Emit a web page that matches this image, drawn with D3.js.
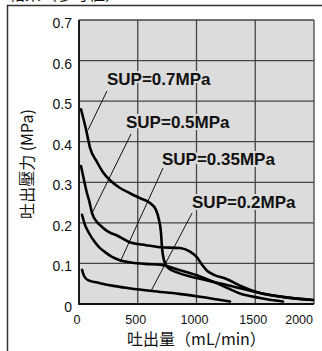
<!DOCTYPE html>
<html>
<head>
<meta charset="utf-8">
<script src="https://cdn.jsdelivr.net/npm/d3@7"></script>
<style>
  body { margin: 0; background: #fff; }
  svg { display: block; }
</style>
</head>
<body>
<div id="chart"></div>
<script>
// discharge flow (mL/min) and discharge pressure (MPa) per supply pressure
const flow07 = [17, 60, 94, 153, 204, 264, 349, 434, 519, 604, 655, 681, 698, 706, 723, 757, 851, 1030, 1285, 1540, 1796, 1991];
const pres07 = [0.48, 0.43, 0.385, 0.35, 0.325, 0.305, 0.286, 0.273, 0.261, 0.249, 0.232, 0.207, 0.175, 0.14, 0.108, 0.089, 0.076, 0.062, 0.045, 0.027, 0.015, 0.01];
const flow05 = [17, 43, 68, 85, 111, 153, 196, 255, 315, 426, 570, 690, 860, 945, 1004, 1047, 1090, 1149, 1260, 1370, 1540, 1796, 1991];
const pres05 = [0.34, 0.305, 0.273, 0.256, 0.224, 0.202, 0.19, 0.177, 0.17, 0.153, 0.145, 0.14, 0.138, 0.129, 0.115, 0.097, 0.082, 0.072, 0.061, 0.045, 0.027, 0.015, 0.01];
const flow035 = [26, 51, 85, 128, 170, 221, 281, 349, 426, 562, 706, 851, 1030, 1200, 1370, 1540, 1736];
const pres035 = [0.22, 0.195, 0.175, 0.155, 0.14, 0.128, 0.116, 0.108, 0.103, 0.099, 0.096, 0.084, 0.068, 0.048, 0.026, 0.015, 0.006];
const flow02 = [26, 43, 77, 170, 306, 426, 621, 851, 1030, 1285];
const pres02 = [0.084, 0.069, 0.059, 0.052, 0.044, 0.039, 0.032, 0.025, 0.018, 0.006];

const seriesNames = ['SUP=0.7MPa', 'SUP=0.5MPa', 'SUP=0.35MPa', 'SUP=0.2MPa'];
// label anchor and leader line ends, in data units
const labelFlow = [238, 400, 706, 962];
const labelPres = [0.539, 0.433, 0.342, 0.236];
const leaderFromFlow = [238, 443, 715, 962];
const leaderFromPres = [0.525, 0.419, 0.335, 0.224];
const leaderToFlow = [77, 111, 349, 613];
const leaderToPres = [0.429, 0.224, 0.103, 0.032];

const xTicks = [0, 500, 1000, 1500, 2000];
const yTicks = [0, 0.1, 0.2, 0.3, 0.4, 0.5, 0.6, 0.7];

const width = 322, height = 351;
const margin = { top: 20, right: 8, bottom: 47, left: 79 };

const svg = d3.select('#chart').append('svg')
  .attr('width', width)
  .attr('height', height);

// outer frame (top and left edges only visible)
svg.append('path')
  .attr('d', `M7.5,${height} V5.5 H${width}`)
  .attr('fill', 'none')
  .attr('stroke', '#333')
  .attr('stroke-width', 1.5);

// cut-off heading at the very top
svg.append('text')
  .attr('x', 9).attr('y', 0)
  .attr('font-family', '"Noto Sans CJK JP"')
  .attr('font-size', 16)
  .attr('fill', '#111')
  .text('結果（参考値）');

const x = d3.scaleLinear()
  .domain([0, 2000])
  .range([margin.left, width - margin.right]);

const y = d3.scaleLinear()
  .domain([0, 0.7])
  .range([height - margin.bottom, margin.top]);

svg.append('rect')
  .attr('x', x(0)).attr('y', y(0.7))
  .attr('width', x(2000) - x(0))
  .attr('height', y(0) - y(0.7))
  .attr('fill', '#dcdcdc');

// grid
svg.append('g')
  .attr('stroke', '#444')
  .attr('stroke-width', 1.3)
  .selectAll('line.v')
  .data(xTicks)
  .join('line')
  .attr('x1', d => x(d)).attr('x2', d => x(d))
  .attr('y1', y(0)).attr('y2', y(0.7));

svg.append('g')
  .attr('stroke', '#444')
  .attr('stroke-width', 1.3)
  .selectAll('line.h')
  .data(yTicks)
  .join('line')
  .attr('x1', x(0)).attr('x2', x(2000))
  .attr('y1', d => y(d)).attr('y2', d => y(d));

// axes lines
svg.append('path')
  .attr('d', `M${x(0)},${y(0.7)} V${y(0)} H${x(2000)}`)
  .attr('fill', 'none')
  .attr('stroke', '#111')
  .attr('stroke-width', 1.8);

// tick labels
svg.append('g')
  .attr('font-family', 'Liberation Sans, Arial, sans-serif')
  .attr('font-size', 14)
  .attr('fill', '#111')
  .attr('text-anchor', 'end')
  .selectAll('text')
  .data(yTicks)
  .join('text')
  .attr('x', x(0) - 7)
  .attr('y', d => y(d) + 8)
  .text(d => d === 0 ? '0' : d3.format('.1f')(d));

svg.append('g')
  .attr('font-family', 'Liberation Sans, Arial, sans-serif')
  .attr('font-size', 12.5)
  .attr('fill', '#111')
  .selectAll('text')
  .data(xTicks)
  .join('text')
  .attr('text-anchor', d => d === 2000 ? 'end' : 'middle')
  .attr('x', d => d === 2000 ? x(d) - 1 : x(d) - 2)
  .attr('y', y(0) + 20)
  .text(d => d);

// axis titles
svg.append('text')
  .attr('x', (x(0) + x(2000)) / 2)
  .attr('y', 345)
  .attr('text-anchor', 'middle')
  .attr('font-family', '"Noto Sans CJK JP"')
  .attr('font-size', 16)
  .attr('fill', '#111')
  .text('吐出量（mL/min）');

svg.append('text')
  .attr('transform', `translate(33,${(y(0) + y(0.7)) / 2 + 2}) rotate(-90)`)
  .attr('text-anchor', 'middle')
  .attr('font-family', '"Noto Sans CJK JP"')
  .attr('font-size', 16)
  .attr('fill', '#111')
  .text('吐出壓力 (MPa)');

// labels with grey halo, then leaders
seriesNames.forEach((name, i) => {
  svg.append('text')
    .attr('x', x(labelFlow[i]))
    .attr('y', y(labelPres[i]))
    .attr('font-family', 'Liberation Sans, Arial, sans-serif')
    .attr('font-weight', 'bold')
    .attr('font-size', 17)
    .attr('fill', '#111')
    .attr('stroke', '#dcdcdc')
    .attr('stroke-width', 4)
    .attr('paint-order', 'stroke')
    .text(name);

  svg.append('line')
    .attr('x1', x(leaderFromFlow[i])).attr('y1', y(leaderFromPres[i]))
    .attr('x2', x(leaderToFlow[i])).attr('y2', y(leaderToPres[i]))
    .attr('stroke', '#111')
    .attr('stroke-width', 1);
});

// curves
const curves = [
  d3.zip(flow07, pres07),
  d3.zip(flow05, pres05),
  d3.zip(flow035, pres035),
  d3.zip(flow02, pres02)
];

const line = d3.line()
  .x(d => x(d[0]))
  .y(d => y(d[1]))
  .curve(d3.curveMonotoneX);

svg.append('g')
  .attr('fill', 'none')
  .attr('stroke', '#000')
  .attr('stroke-width', 2.6)
  .attr('stroke-linecap', 'round')
  .selectAll('path')
  .data(curves)
  .join('path')
  .attr('d', line);
</script>
</body>
</html>
